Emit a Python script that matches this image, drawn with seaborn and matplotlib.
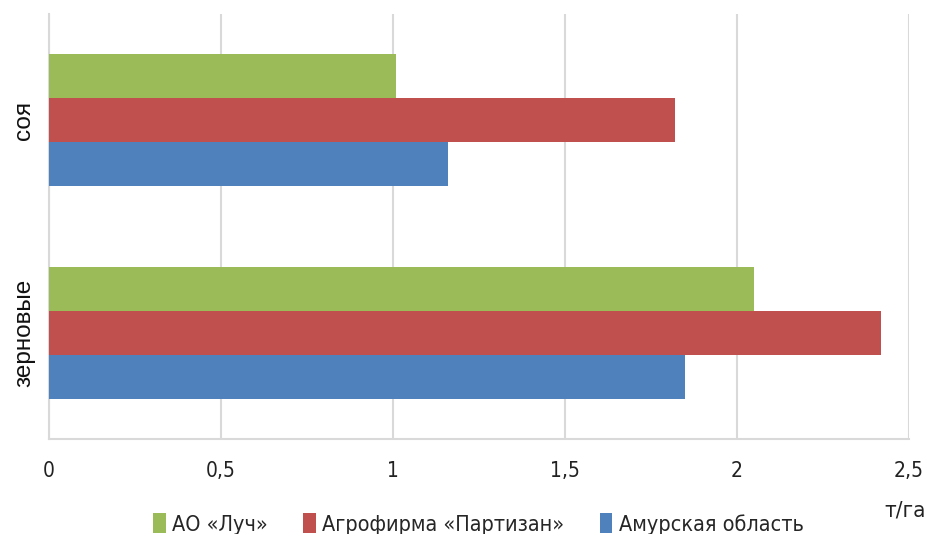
import matplotlib
matplotlib.use("Agg")
import matplotlib.pyplot as plt
from matplotlib import font_manager
from matplotlib.ft2font import FT2Font
from matplotlib.font_manager import FontProperties
import seaborn as sns
import pandas as pd
from matplotlib.patches import Patch

# Crop yields, t/ha
crops = ["соя", "зерновые"]
farms = ["АО «Луч»", "Агрофирма «Партизан»", "Амурская область"]
luch = [1.01, 2.05]
partizan = [1.82, 2.42]
amur = [1.16, 1.85]
x_ticks = [0, 0.5, 1, 1.5, 2, 2.5]
x_tick_labels = ["0", "0,5", "1", "1,5", "2", "2,5"]
unit_label = "т/га"

colors = ["#9BBB59", "#C0504D", "#4F81BD"]

df = pd.DataFrame({
    "crop": crops * 3,
    "farm": [farms[0]] * 2 + [farms[1]] * 2 + [farms[2]] * 2,
    "value": luch + partizan + amur,
})

sns.set_theme(style="white")
plt.rcParams["font.family"] = ["Liberation Sans", "DejaVu Sans"]


def pick_condensed():
    """Find an upright condensed face that covers Cyrillic and guillemets."""
    found = []
    for f in font_manager.fontManager.ttflist:
        label = (f.name + " " + str(f.fname)).lower()
        is_cond = ("narrow" in label or "condensed" in label
                   or str(f.stretch) in ("condensed", "semi-condensed", "extra-condensed"))
        if not is_cond or f.style != "normal":
            continue
        if f.weight not in (400, "normal", "regular"):
            continue
        try:
            cmap = FT2Font(f.fname).get_charmap()
        except Exception:
            continue
        if all(ord(c) in cmap for c in "Лучга«»0,5"):
            rank = 0 if "liberation" in label else (1 if "dejavu" in label else 2)
            found.append((rank, f.fname))
    found.sort()
    return found[0][1] if found else None


cond_path = pick_condensed()


def small_font(size):
    if cond_path:
        return FontProperties(fname=cond_path, size=size)
    return FontProperties(family=["Liberation Sans", "DejaVu Sans"], size=size - 2)


fig = plt.figure(figsize=(9.29, 5.34), dpi=100)
ax = fig.add_axes([49 / 929, 1 - 439 / 534, (909 - 49) / 929, (439 - 14) / 534])

sns.barplot(data=df, x="value", y="crop", hue="farm", order=crops,
            hue_order=farms, palette=colors, orient="h", width=0.62,
            linewidth=0, saturation=1, legend=False, ax=ax, zorder=3)

ax.set_xlim(0, 2.5)
ax.set_ylim(1.5, -0.5)
ax.set_xticks(x_ticks)
ax.set_xticklabels(x_tick_labels, fontproperties=small_font(15), color="#222222")
ax.tick_params(axis="x", length=0, pad=16)
ax.tick_params(axis="y", length=0, pad=10)
for lbl in ax.get_yticklabels():
    lbl.set_rotation(90)
    lbl.set_va("center")
    lbl.set_fontsize(17.5)
    lbl.set_color("#111111")
ax.set_xlabel("")
ax.set_ylabel("")

ax.grid(axis="x", color="#d9d9d9", linewidth=1.5, zorder=0)
ax.grid(axis="y", visible=False)
for side in ["top", "right"]:
    ax.spines[side].set_visible(False)
for side in ["left", "bottom"]:
    ax.spines[side].set_color("#d9d9d9")
    ax.spines[side].set_linewidth(1.5)

handles = [Patch(facecolor=c, edgecolor="none") for c in colors]
fig.legend(handles, farms, loc="center", bbox_to_anchor=(478.5 / 929, 1 - 524 / 534),
           ncol=3, frameon=False, handlelength=0.58, handleheight=1.0,
           handletextpad=0.3, columnspacing=1.65, prop=small_font(15.5))

fig.text(905 / 929, 1 - 511 / 534, unit_label, ha="center", va="center",
         fontproperties=small_font(16), color="#222222")

fig.savefig("out.png", dpi=100)
